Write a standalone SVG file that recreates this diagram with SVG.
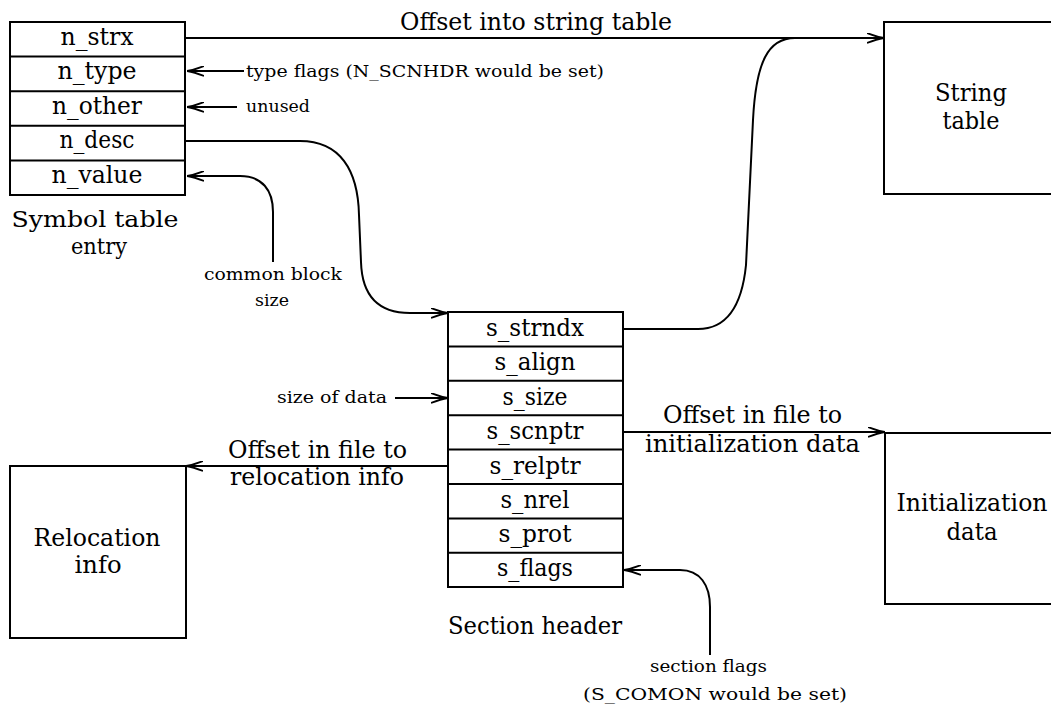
<svg xmlns="http://www.w3.org/2000/svg" width="1051" height="710" viewBox="0 0 1051 710">
<style>
  .box { fill: #fff; stroke: #000; stroke-width: 2; }
  .div { stroke: #000; stroke-width: 2; }
  .ln { fill: none; stroke: #000; stroke-width: 2; }
  .t { font-family: "DejaVu Serif", "Liberation Serif", serif; font-size: 23.5px; fill: #000; }
  .c { font-size: 22px; }
  .s { font-family: "DejaVu Serif", "Liberation Serif", serif; font-size: 17px; fill: #000; }
  .m { text-anchor: middle; }
</style>
<defs>
  <marker id="arr" viewBox="0 0 17 11" refX="17" refY="5.5" markerWidth="17" markerHeight="11" markerUnits="userSpaceOnUse" orient="auto">
    <path d="M0,0.5 Q10,4.4 17,5.5 Q10,6.6 0,10.5" fill="none" stroke="#000" stroke-width="1.8"/>
  </marker>
</defs>
<rect width="1051" height="710" fill="#fff"/>

<g id="symbol-table">
  <rect class="box" x="10" y="22" width="175" height="173"/>
  <line class="div" x1="10" y1="56.6" x2="185" y2="56.6"/>
  <line class="div" x1="10" y1="91.2" x2="185" y2="91.2"/>
  <line class="div" x1="10" y1="125.8" x2="185" y2="125.8"/>
  <line class="div" x1="10" y1="160.4" x2="185" y2="160.4"/>
  <text class="t m" x="97" y="45" textLength="73" lengthAdjust="spacingAndGlyphs">n_strx</text>
  <text class="t m" x="97" y="79" textLength="79" lengthAdjust="spacingAndGlyphs">n_type</text>
  <text class="t m" x="97" y="114" textLength="90" lengthAdjust="spacingAndGlyphs">n_other</text>
  <text class="t m" x="97" y="148" textLength="75" lengthAdjust="spacingAndGlyphs">n_desc</text>
  <text class="t m" x="97" y="183" textLength="91" lengthAdjust="spacingAndGlyphs">n_value</text>
  <text class="t c m" x="95" y="227" textLength="167" lengthAdjust="spacingAndGlyphs">Symbol table</text>
  <text class="t c m" x="99" y="254" textLength="56" lengthAdjust="spacingAndGlyphs">entry</text>
</g>

<g id="string-table">
  <rect class="box" x="884" y="22" width="200" height="172"/>
  <text class="t m" x="971" y="101" textLength="72" lengthAdjust="spacingAndGlyphs">String</text>
  <text class="t m" x="971" y="129" textLength="57" lengthAdjust="spacingAndGlyphs">table</text>
</g>

<g id="section-header">
  <rect class="box" x="448" y="312" width="175" height="275"/>
  <line class="div" x1="448" y1="346.4" x2="623" y2="346.4"/>
  <line class="div" x1="448" y1="380.8" x2="623" y2="380.8"/>
  <line class="div" x1="448" y1="415.2" x2="623" y2="415.2"/>
  <line class="div" x1="448" y1="449.6" x2="623" y2="449.6"/>
  <line class="div" x1="448" y1="484" x2="623" y2="484"/>
  <line class="div" x1="448" y1="518.4" x2="623" y2="518.4"/>
  <line class="div" x1="448" y1="552.8" x2="623" y2="552.8"/>
  <text class="t m" x="535" y="336" textLength="98" lengthAdjust="spacingAndGlyphs">s_strndx</text>
  <text class="t m" x="535" y="370" textLength="81" lengthAdjust="spacingAndGlyphs">s_align</text>
  <text class="t m" x="535" y="405" textLength="65" lengthAdjust="spacingAndGlyphs">s_size</text>
  <text class="t m" x="535" y="439" textLength="97" lengthAdjust="spacingAndGlyphs">s_scnptr</text>
  <text class="t m" x="535" y="474" textLength="91" lengthAdjust="spacingAndGlyphs">s_relptr</text>
  <text class="t m" x="535" y="508" textLength="69" lengthAdjust="spacingAndGlyphs">s_nrel</text>
  <text class="t m" x="535" y="542" textLength="73" lengthAdjust="spacingAndGlyphs">s_prot</text>
  <text class="t m" x="535" y="576" textLength="76" lengthAdjust="spacingAndGlyphs">s_flags</text>
  <text class="t m" x="535" y="634" textLength="174" lengthAdjust="spacingAndGlyphs">Section header</text>
</g>

<g id="relocation-info">
  <rect class="box" x="10" y="466" width="176" height="172"/>
  <text class="t m" x="97" y="546" textLength="127" lengthAdjust="spacingAndGlyphs">Relocation</text>
  <text class="t m" x="98" y="573" textLength="47" lengthAdjust="spacingAndGlyphs">info</text>
</g>

<g id="initialization-data">
  <rect class="box" x="885" y="433" width="200" height="171"/>
  <text class="t m" x="972" y="511" textLength="151" lengthAdjust="spacingAndGlyphs">Initialization</text>
  <text class="t m" x="972" y="540" textLength="51" lengthAdjust="spacingAndGlyphs">data</text>
</g>

<g id="connectors">
  <path class="ln" d="M185,38 H884" marker-end="url(#arr)"/>
  <path class="ln" d="M623,329 H698 C728,329 742,305 746,265 L753,120 C756,62 768,38 795,38"/>
  <path class="ln" d="M185,141 H300 C340,141 358,170 359,215 L361,262 C362,295 378,313 410,313 H448" marker-end="url(#arr)"/>
  <path class="ln" d="M244,71 H187" marker-end="url(#arr)"/>
  <path class="ln" d="M237,107 H187" marker-end="url(#arr)"/>
  <path class="ln" d="M273,262 V212 C273,190 262,176 240,176 H187" marker-end="url(#arr)"/>
  <path class="ln" d="M395,398 H448" marker-end="url(#arr)"/>
  <path class="ln" d="M448,466 H186" marker-end="url(#arr)"/>
  <path class="ln" d="M623,432 H885" marker-end="url(#arr)"/>
  <path class="ln" d="M710,655 V607 C710,585 700,570 680,570 H624" marker-end="url(#arr)"/>
</g>

<g id="labels">
  <text class="t" x="400" y="30" textLength="272" lengthAdjust="spacingAndGlyphs">Offset into string table</text>
  <text class="s" x="246" y="77" textLength="358" lengthAdjust="spacingAndGlyphs">type flags (N_SCNHDR would be set)</text>
  <text class="s" x="246" y="112" textLength="64" lengthAdjust="spacingAndGlyphs">unused</text>
  <text class="s" x="204" y="280" textLength="138" lengthAdjust="spacingAndGlyphs">common block</text>
  <text class="s m" x="272" y="306" textLength="34" lengthAdjust="spacingAndGlyphs">size</text>
  <text class="s" x="277" y="403" textLength="110" lengthAdjust="spacingAndGlyphs">size of data</text>
  <text class="t" x="228" y="458" textLength="179" lengthAdjust="spacingAndGlyphs">Offset in file to</text>
  <text class="t" x="230" y="485" textLength="174" lengthAdjust="spacingAndGlyphs">relocation info</text>
  <text class="t" x="663" y="423" textLength="179" lengthAdjust="spacingAndGlyphs">Offset in file to</text>
  <text class="t" x="645" y="452" textLength="215" lengthAdjust="spacingAndGlyphs">initialization data</text>
  <text class="s" x="650" y="672" textLength="117" lengthAdjust="spacingAndGlyphs">section flags</text>
  <text class="s" x="583" y="700" textLength="264" lengthAdjust="spacingAndGlyphs">(S_COMON would be set)</text>
</g>
</svg>
